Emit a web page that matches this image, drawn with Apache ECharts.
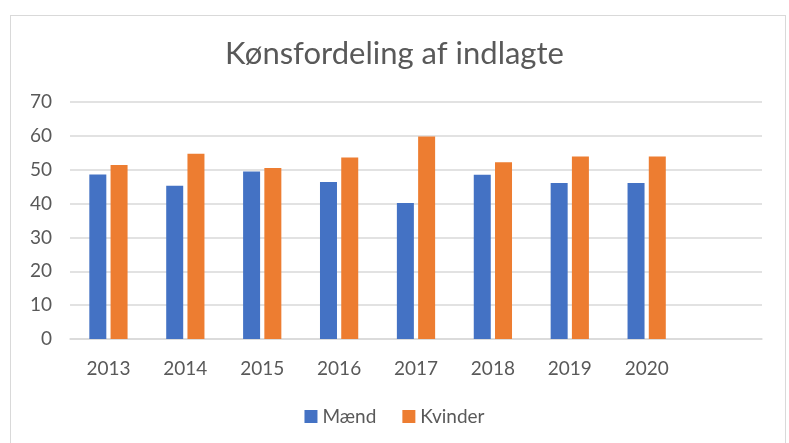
<!DOCTYPE html>
<html lang="da">
<head>
    <meta charset="UTF-8">
    <title>Kønsfordeling af indlagte</title>
    <script src="https://cdn.jsdelivr.net/npm/echarts@6/dist/echarts.min.js"></script>
    <style>
        html, body { margin: 0; padding: 0; background: #fff; }
        #frame { position: absolute; left: 10px; top: 15px; width: 776px; height: 440px;
                 border: 1px solid #d9d9d9; box-sizing: border-box; }
        #main { position: absolute; left: 0; top: 0; width: 789px; height: 443px; }
    </style>
</head>
<body>
<div id="frame"></div>
<div id="main"></div>
<script>
    // år (sidste plads er tom, som i originalen)
    const years = ['2013', '2014', '2015', '2016', '2017', '2018', '2019', '2020', ''];
    const maend = [48.6, 45.3, 49.5, 46.4, 40.2, 48.5, 46.1, 46.1, null];
    const kvinder = [51.4, 54.7, 50.5, 53.6, 59.8, 52.2, 53.9, 53.9, null];
    const yTicks = [0, 10, 20, 30, 40, 50, 60, 70];

    const font = 'Lato, "Open Sans", sans-serif';
    const grey = '#595959';

    let myChart = echarts.init(document.getElementById('main'));
    let option = {
        animation: false,
        title: {
            text: 'Kønsfordeling af indlagte',
            left: 'center',
            top: 33,
            textStyle: { fontFamily: font, fontSize: 31, fontWeight: 'normal', color: grey }
        },
        legend: {
            data: ['Mænd', 'Kvinder'],
            bottom: 12,
            left: 'center',
            itemWidth: 13,
            itemHeight: 13,
            itemGap: 26,
            icon: 'rect',
            textStyle: { fontFamily: font, fontSize: 19, color: grey }
        },
        grid: { left: 70, right: 27, top: 102, bottom: 104 },
        xAxis: {
            type: 'category',
            data: years,
            axisLine: { lineStyle: { color: '#d9d9d9', width: 1.5 } },
            axisTick: { show: false },
            axisLabel: { fontFamily: font, fontSize: 19, color: grey, margin: 20 }
        },
        yAxis: {
            type: 'value',
            min: yTicks[0],
            max: yTicks[yTicks.length - 1],
            interval: 10,
            axisLine: { show: false },
            axisTick: { show: false },
            splitLine: { lineStyle: { color: '#d9d9d9', width: 1.5 } },
            axisLabel: { fontFamily: font, fontSize: 19, color: grey, margin: 18 }
        },
        series: [
            {
                name: 'Mænd',
                type: 'bar',
                data: maend,
                barWidth: 17,
                barGap: '25%',
                itemStyle: { color: '#4472C4' }
            },
            {
                name: 'Kvinder',
                type: 'bar',
                data: kvinder,
                barWidth: 17,
                itemStyle: { color: '#ED7D31' }
            }
        ]
    };
    myChart.setOption(option);
</script>
</body>
</html>
